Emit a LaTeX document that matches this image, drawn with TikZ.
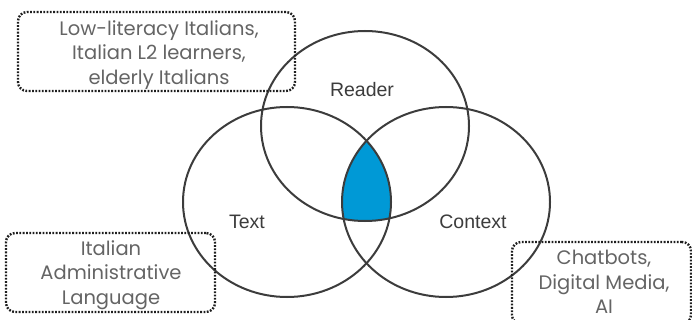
\documentclass[tikz,border=0pt]{standalone}
\usepackage{fontspec}
\setmainfont{Liberation Sans}
\newfontfamily\tagfont{Poppins}
\usetikzlibrary{shapes.geometric}
\definecolor{vennline}{RGB}{60,60,60}
\definecolor{vennblue}{RGB}{0,153,214}
\definecolor{tagline}{RGB}{30,30,30}
\definecolor{taggray}{RGB}{100,100,100}

\begin{document}
\begin{tikzpicture}[x=1pt, y=-1pt,
    venn/.style={ellipse, draw=vennline, line width=2pt, minimum width=208pt, minimum height=190pt, inner sep=0pt},
    vennlabel/.style={font=\fontsize{19.5}{22}\selectfont, text=vennline, inner sep=0pt},
    tag/.style={rectangle, rounded corners=9pt, draw=tagline, line width=2.4pt, dash pattern=on 1.8pt off 1.5pt, inner sep=0pt},
    tagtext/.style={align=center, font=\tagfont\fontsize{19.5}{24.5}\selectfont, text=taggray, inner sep=0pt}
]
\useasboundingbox (0,0) rectangle (692,320);
\coordinate (readerc) at (365,126);
\coordinate (textc) at (287,202);
\coordinate (contextc) at (446,202);
\begin{scope}
  \clip (readerc) ellipse [x radius=104pt, y radius=95pt];
  \clip (textc) ellipse [x radius=104pt, y radius=95pt];
  \fill[vennblue] (contextc) ellipse [x radius=104pt, y radius=95pt];
\end{scope}
\node[venn] (reader) at (readerc) {};
\node[venn] (text) at (textc) {};
\node[venn] (context) at (contextc) {};
\node[vennlabel] (readerlbl) at (362,90) {Reader};
\node[vennlabel] (textlbl) at (247,222) {Text};
\node[vennlabel] (contextlbl) at (473,222) {Context};
\node[tag, minimum width=277pt, minimum height=79pt] (readers) at (156.5,51.5) {};
\node[tagtext] (readerstxt) at (159,55) {Low-literacy Italians,\\Italian L2 learners,\\elderly Italians};
\node[tag, minimum width=209pt, minimum height=79pt] (texts) at (110.5,272.5) {};
\node[tagtext] (textstxt) at (111,275) {Italian\\Administrative\\Language};
\node[tag, minimum width=179pt, minimum height=82pt] (contexts) at (601.5,283) {};
\node[tagtext] (contextstxt) at (604,282) {Chatbots,\\Digital Media,\\AI};
\end{tikzpicture}
\end{document}
